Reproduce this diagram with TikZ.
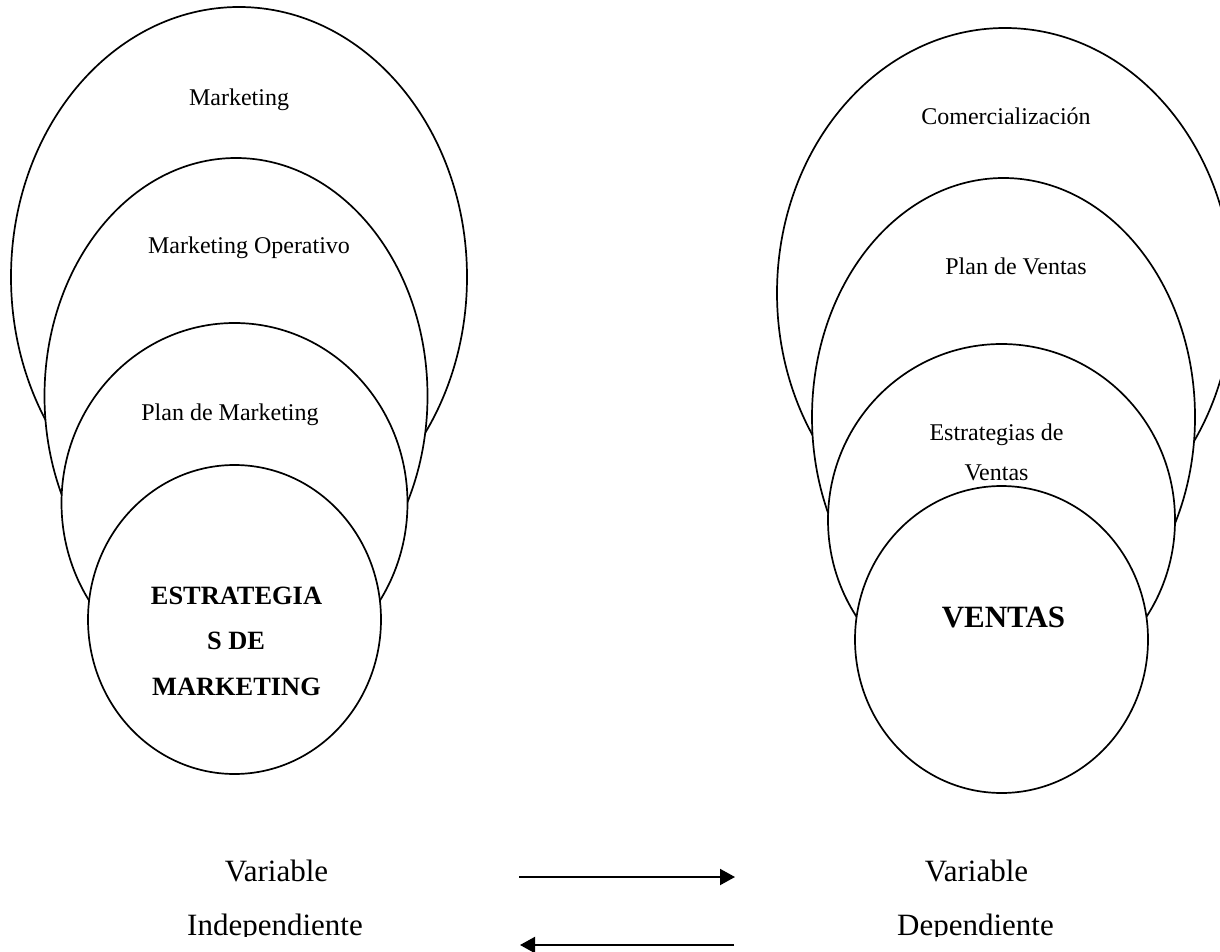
\documentclass[tikz,border=0pt]{standalone}
\usepackage{fontspec}
\setmainfont{Liberation Serif}
\usetikzlibrary{arrows.meta}

\begin{document}
\begin{tikzpicture}[x=0.5pt, y=-0.5pt,
  ring/.style={draw=black, line width=0.85pt, fill=white},
  lbl/.style={anchor=base, inner sep=0pt, font=\fontsize{12}{14}\selectfont},
  core/.style={anchor=base, inner sep=0pt, font=\bfseries\fontsize{13.2}{15}\selectfont},
  big/.style={anchor=base, inner sep=0pt, font=\fontsize{15.5}{18}\selectfont},
  flow/.style={line width=1pt, -{Triangle[length=7.5pt, width=8pt]}}]
\useasboundingbox (0,0) rectangle (1220,952);

% left group: nested ellipses, outermost first
\draw[ring] (239,277)   ellipse [x radius=228,   y radius=270];
\draw[ring] (236,396)   ellipse [x radius=191.5, y radius=238];
\draw[ring] (234.5,503) ellipse [x radius=173,   y radius=180];
\draw[ring] (234.5,619.5) ellipse [x radius=146.5, y radius=154.5];

\node[lbl] (mk)  at (239,106) {Marketing};
\node[lbl] (mko) at (249,254) {Marketing Operativo};
\node[lbl] (pm)  at (230,420) {Plan de Marketing};
\node[core] (em1) at (236.5,604) {ESTRATEGIA};
\node[core] (em2) at (236,649)   {S DE};
\node[core] (em3) at (236.5,695) {MARKETING};

% right group: nested ellipses, outermost first
\draw[ring] (1005,293)   ellipse [x radius=228,   y radius=265];
\draw[ring] (1003.5,417) ellipse [x radius=191.5, y radius=239];
\draw[ring] (1001.5,520) ellipse [x radius=173.5, y radius=176];
\draw[ring] (1001.5,639.5) ellipse [x radius=146.5, y radius=153.5];

\node[lbl] (com) at (1006,125)   {Comercialización};
\node[lbl] (pv)  at (1016,274)   {Plan de Ventas};
\node[lbl] (ev1) at (996.5,440)  {Estrategias de};
\node[lbl] (ev2) at (996.5,480)  {Ventas};
\node[anchor=base, inner sep=0pt, font=\bfseries\fontsize{15.5}{18}\selectfont] (ven) at (1003.5,627) {VENTAS};

% variable labels
\node[big] (vi1) at (276.5,881) {Variable};
\node[big] (vd1) at (976.5,881) {Variable};
\begin{scope}
  \clip (0,0) rectangle (1220,936);
  \node[big] (vi2) at (275,935)   {Independiente};
  \node[big] (vd2) at (975.5,935) {Dependiente};
\end{scope}

% relation arrows
\coordinate (r1a) at (519,877);
\coordinate (r1b) at (735,877);
\coordinate (r2a) at (734,945);
\coordinate (r2b) at (520,945);
\draw[flow] (r1a) -- (r1b);
\draw[flow] (r2a) -- (r2b);
\end{tikzpicture}
\end{document}
